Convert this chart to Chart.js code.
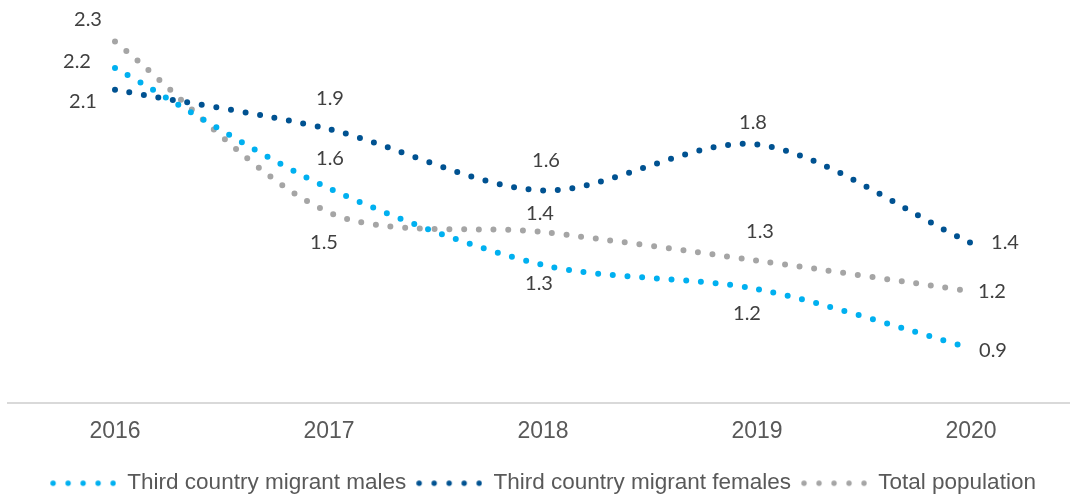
<!DOCTYPE html>
<html>
<head>
<meta charset="utf-8">
<script src="https://cdn.jsdelivr.net/npm/chart.js@4"></script>
<style>
  html, body { margin: 0; padding: 0; background: #fff; overflow: hidden; }
  canvas { display: block; }
</style>
</head>
<body>
<canvas id="chart" width="1078" height="497"></canvas>
<script>
/* ── DATA ── */
const years   = ['2016', '2017', '2018', '2019', '2020'];
const males   = [2.18, 1.63, 1.28, 1.17, 0.90];
const females = [2.08, 1.90, 1.62, 1.83, 1.38];
const total   = [2.30, 1.52, 1.43, 1.30, 1.16];

const seriesNames = ['Third country migrant males', 'Third country migrant females', 'Total population'];
const colors = ['#00B0F0', '#005291', '#A5A5A5'];

// where each value label sits relative to its point (dx, dy)
const labelShift = [
  [[-38, -6], [1, -30], [-4, 19], [-10, 25], [22, 2]],
  [[-32, 12], [1, -31], [3, -30], [-4, -22], [34, -1]],
  [[-27, -22], [-5, 30], [-3, -19], [3, -29], [21, 0]]
];

/* ── LEGEND SAMPLE: five dots ── */
function dotSample(color) {
  const c = document.createElement('canvas');
  c.width = 66; c.height = 8;
  const g = c.getContext('2d');
  g.fillStyle = color;
  for (let k = 0; k < 5; k++) {
    g.beginPath();
    g.arc(3 + k * 15, 4, 2.7, 0, Math.PI * 2);
    g.fill();
  }
  return c;
}

/* ── VALUE LABELS ── */
const pointLabels = {
  id: 'pointLabels',
  afterDatasetsDraw(chart) {
    const ctx = chart.ctx;
    ctx.save();
    ctx.font = '20px Lato';
    ctx.fillStyle = '#404040';
    ctx.textAlign = 'center';
    ctx.textBaseline = 'middle';
    chart.data.datasets.forEach((ds, i) => {
      chart.getDatasetMeta(i).data.forEach((pt, j) => {
        const [dx, dy] = labelShift[i][j];
        ctx.fillText(ds.data[j].toFixed(1), pt.x + dx, pt.y + dy);
      });
    });
    ctx.restore();
  }
};

const dotted = (data, i) => ({
  label: seriesNames[i],
  data: data,
  borderColor: colors[i],
  backgroundColor: colors[i],
  borderWidth: 6,
  borderDash: [0, 14.7],
  borderCapStyle: 'round',
  tension: 0.3,
  pointRadius: 0,
  pointStyle: dotSample(colors[i]),
  clip: false
});

new Chart(document.getElementById('chart'), {
  type: 'line',
  data: {
    labels: years,
    datasets: [dotted(males, 0), dotted(females, 1), dotted(total, 2)]
  },
  options: {
    responsive: false,
    animation: false,
    layout: { padding: { left: 8, right: 0, top: 0, bottom: -7.5 } },
    plugins: {
      legend: {
        position: 'bottom',
        labels: {
          usePointStyle: true,
          pointStyleWidth: 66,
          color: '#595959',
          font: { family: "'Liberation Sans', Arial, sans-serif", size: 22.5 },
          padding: 10
        }
      },
      tooltip: { enabled: false }
    },
    scales: {
      x: {
        offset: true,
        grid: { display: false, drawTicks: false },
        border: { color: '#D9D9D9', width: 2 },
        ticks: {
          color: '#595959',
          font: { family: "'Liberation Sans', Arial, sans-serif", size: 23 },
          padding: 15
        },
        afterFit(scale) { scale.height += 1.5; }
      },
      y: { display: false, min: 0.65, max: 2.49 }
    }
  },
  plugins: [pointLabels]
});
</script>
</body>
</html>
